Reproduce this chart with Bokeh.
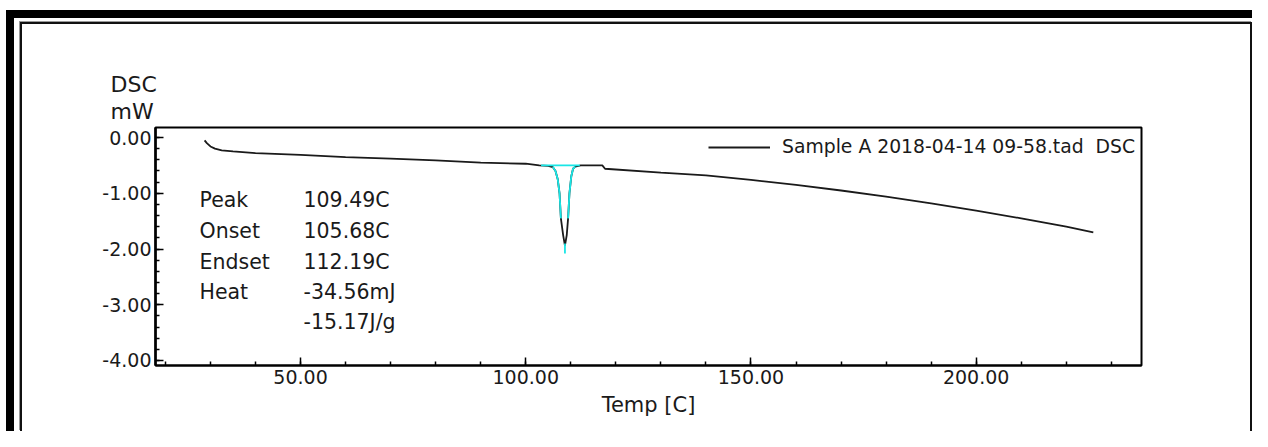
from bokeh.plotting import figure
from bokeh.models import (Range1d, SingleIntervalTicker, NumeralTickFormatter, Label,
                          Legend, LegendItem, InlineStyleSheet)
from bokeh.embed import file_html
from bokeh.resources import INLINE

# ---- data ----
temp = [28.7, 29.2, 30.0, 31.0, 32.5, 35.0, 40.0, 50.0, 60.0, 70.0, 80.0, 90.0, 100.0,
        103.0, 105.0, 106.0, 106.6, 107.1, 107.5, 107.8, 108.3, 108.7, 109.1, 109.4,
        109.7, 110.1, 110.5, 111.0, 112.2, 117.0, 117.6, 130.0, 140.0, 150.0, 160.0,
        170.0, 180.0, 190.0, 200.0, 210.0, 220.0, 226.0]
dsc = [-0.05, -0.10, -0.16, -0.20, -0.23, -0.25, -0.28, -0.31, -0.35, -0.38, -0.41, -0.45, -0.47,
       -0.50, -0.51, -0.53, -0.60, -0.75, -1.00, -1.45, -1.75, -1.94, -1.75, -1.45,
       -1.00, -0.70, -0.56, -0.52, -0.50, -0.50, -0.56, -0.63, -0.68, -0.76, -0.85,
       -0.95, -1.06, -1.18, -1.31, -1.45, -1.60, -1.70]

# peak analysis overlay (cyan): baseline, left flank, right flank, tip
peak_base_t = [103.4, 112.0]
peak_base_d = [-0.50, -0.50]
peak_left_t = [106.0, 106.6, 107.1, 107.5, 107.8]
peak_left_d = [-0.53, -0.60, -0.75, -1.00, -1.45]
peak_right_t = [109.4, 109.7, 110.1, 110.5, 111.0]
peak_right_d = [-1.45, -1.00, -0.70, -0.56, -0.52]
peak_tip_t = [108.7, 108.7]
peak_tip_d = [-1.90, -2.08]

result_names = ["Peak", "Onset", "Endset", "Heat", ""]
result_values = ["109.49C", "105.68C", "112.19C", "-34.56mJ", "-15.17J/g"]

series_name = "Sample A 2018-04-14 09-58.tad  DSC"
x_title = "Temp [C]"
y_title = ["DSC", "mW"]

FONT = "DejaVu Sans"
INK = "#1a1a1a"

# decorative page frame (thick outer border + thin inner double line)
frame_css = InlineStyleSheet(css="""
:host { position: relative; }
:host::before {
  content: ""; position: absolute; left: 6px; top: 10px; right: 0px; bottom: 0px;
  border-left: 8px solid #000; border-top: 8px solid #000;
  box-sizing: border-box; pointer-events: none; z-index: 50;
}
:host::after {
  content: ""; position: absolute; left: 20px; top: 22px; right: 0px; bottom: 0px;
  border-left: 2px solid #111; border-top: 2px solid #111; border-right: 2px solid #111;
  box-shadow: -1px -1px 0 #999;
  box-sizing: border-box; pointer-events: none; z-index: 50;
}
""")

W, H = 1252, 431
p = figure(width=W, height=H, output_backend="svg", toolbar_location=None,
           x_range=Range1d(17.8, 236.7), y_range=Range1d(-4.09, 0.18),
           min_border_left=155, min_border_right=111, min_border_top=127, min_border_bottom=66,
           stylesheets=[frame_css])
p.grid.visible = False
p.outline_line_color = "black"
p.outline_line_width = 2
p.background_fill_color = "white"
p.border_fill_color = "white"

for ax in (p.xaxis[0], p.yaxis[0]):
    ax.axis_line_width = 2
    ax.axis_line_color = "black"
    ax.major_tick_in = 8
    ax.major_tick_out = 0
    ax.minor_tick_in = 4
    ax.minor_tick_out = 0
    ax.major_tick_line_color = "black"
    ax.minor_tick_line_color = "black"
    ax.major_tick_line_width = 1.5
    ax.minor_tick_line_width = 1.5
    ax.major_label_text_font = FONT
    ax.major_label_text_font_size = "19px"
    ax.major_label_text_color = INK
    ax.major_label_standoff = 4
    ax.formatter = NumeralTickFormatter(format="0.00")
p.yaxis[0].axis_line_width = 2.5

p.xaxis[0].ticker = SingleIntervalTicker(interval=50, num_minor_ticks=5)
p.yaxis[0].ticker = SingleIntervalTicker(interval=1, num_minor_ticks=5)
p.xaxis[0].axis_label = x_title
p.xaxis[0].axis_label_text_font = FONT
p.xaxis[0].axis_label_text_font_style = "normal"
p.xaxis[0].axis_label_text_font_size = "21px"
p.xaxis[0].axis_label_text_color = INK
p.xaxis[0].axis_label_standoff = 6

main = p.line(temp, dsc, line_color=INK, line_width=1.8)
p.multi_line([peak_base_t, peak_left_t, peak_right_t, peak_tip_t],
             [peak_base_d, peak_left_d, peak_right_d, peak_tip_d],
             line_color="#19e6e6", line_width=1.8)

legend = Legend(items=[LegendItem(label=series_name, renderers=[main])],
                location=(553, 208), glyph_width=62, glyph_height=20, label_standoff=12,
                padding=0, margin=0, border_line_alpha=0, background_fill_alpha=0,
                label_text_font=FONT, label_text_font_size="18.8px",
                label_text_color=INK)
p.add_layout(legend, "center")

# y-axis title ("DSC" over "mW") above the axis
p.title.text = "\n".join(y_title)
p.title.align = "left"
p.title.offset = -45
p.title.standoff = 7
p.title.text_font = FONT
p.title.text_font_size = "22px"
p.title.text_font_style = "normal"
p.title.text_line_height = 1.1
p.title.text_color = INK

# peak analysis results
rows = [199, 230, 261, 291, 321]
for name, val, yb in zip(result_names, result_values, rows):
    if name:
        p.add_layout(Label(x=199, y=yb, x_units="canvas", y_units="canvas", text=name,
                           text_baseline="alphabetic", text_font=FONT,
                           text_font_size="20.5px", text_color=INK))
    p.add_layout(Label(x=303, y=yb, x_units="canvas", y_units="canvas", text=val,
                       text_baseline="alphabetic", text_font=FONT,
                       text_font_size="20.5px", text_color=INK))

open("out.html", "w").write(file_html(p, INLINE))
